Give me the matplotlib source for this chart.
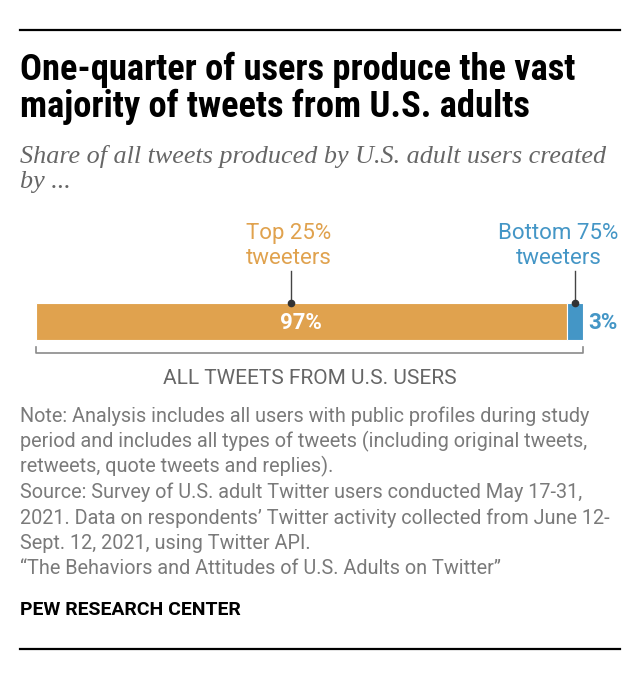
import os
import matplotlib
matplotlib.use('Agg')
import matplotlib.pyplot as plt
from matplotlib import font_manager
from matplotlib.font_manager import FontProperties

# canvas in pixels
W, H = 640, 682

# data
groups = ['Top 25%\ntweeters', 'Bottom 75%\ntweeters']
shares = [97, 3]
value_labels = ['97%', '3%']
colors = ['#E0A24E', '#4496C6']

title_lines = ['One-quarter of users produce the vast',
               'majority of tweets from U.S. adults']
subtitle_lines = ['Share of all tweets produced by U.S. adult users created',
                  'by ...']
bracket_label = 'ALL TWEETS FROM U.S. USERS'
note_lines = [
    'Note: Analysis includes all users with public profiles during study',
    'period and includes all types of tweets (including original tweets,',
    'retweets, quote tweets and replies).',
    'Source: Survey of U.S. adult Twitter users conducted May 17-31,',
    '2021. Data on respondents\u2019 Twitter activity collected from June 12-',
    'Sept. 12, 2021, using Twitter API.',
    '\u201cThe Behaviors and Attitudes of U.S. Adults on Twitter\u201d',
]
credit = 'PEW RESEARCH CENTER'


def pick(*names):
    have = {f.name for f in font_manager.fontManager.ttflist}
    for n in names:
        if n in have:
            return n
    return 'DejaVu Sans'


def pick_file(*stems):
    # look for a condensed bold face on disk, first match wins
    files = {os.path.basename(f.fname).lower(): f.fname for f in font_manager.fontManager.ttflist}
    for s in stems:
        for k, v in files.items():
            if k.startswith(s.lower()):
                return FontProperties(fname=v)
    return FontProperties(family='DejaVu Sans', weight='bold')


TITLE_FP = pick_file('LiberationSansNarrow-Bold', 'RobotoCondensed-Bold', 'NotoSans-CondensedBold',
                     'OpenSans-CondensedBold', 'DejaVuSansCondensed-Bold', 'Roboto-Bold')
BODY_FONT = pick('Roboto', 'Liberation Sans', 'Noto Sans')
SERIF_FONT = pick('Liberation Serif', 'DejaVu Serif')

fig = plt.figure(figsize=(W / 100, H / 100), dpi=100)
renderer = fig.canvas.get_renderer()


def put(x, y, s, size_px, fit=None, **kw):
    # x, y in pixels from top left, y is the baseline
    t = fig.text(x / W, 1 - y / H, s, va='baseline', **kw)
    t.set_fontsize(size_px * 0.72)
    if fit:
        w = t.get_window_extent(renderer).width
        t.set_fontsize(t.get_fontsize() * fit / w)
    return t


def rule(y):
    fig.add_artist(plt.Line2D([20 / W, 620 / W], [1 - y / H, 1 - y / H],
                              color='black', lw=1.6, transform=fig.transFigure))


rule(30)
rule(649)

# title
t = put(20, 80, title_lines[0], 30, fit=555, fontproperties=TITLE_FP)
put(20, 117, title_lines[1], t.get_fontsize() / 0.72, fontproperties=TITLE_FP)

# subtitle
s = put(20, 163, subtitle_lines[0], 21, fit=585, family=SERIF_FONT, style='italic', color='#666666')
put(20, 188, subtitle_lines[1], s.get_fontsize() / 0.72, family=SERIF_FONT, style='italic', color='#666666')

# notes
n = put(20, 422 + 25.4 * 4, note_lines[4], 16, fit=592, family=BODY_FONT, color='#7a7a7a')
for i, line in enumerate(note_lines):
    if i == 4:
        continue
    put(20, 422 + 25.4 * i, line, n.get_fontsize() / 0.72, family=BODY_FONT, color='#7a7a7a')

put(20, 615, credit, 18, fit=220, family=BODY_FONT, weight='bold', color='black')

# bar chart: y axis runs in pixel units so the bar sits where the original does
ax = fig.add_axes([36 / W, 1 - 400 / H, (583 - 36) / W, (400 - 205) / H])
ax.set_xlim(0, 100)
ax.set_ylim(400, 205)
ax.axis('off')

bar_y, bar_h = 321.5, 37
left = 0
anchor_frac = [0.48, 0.5]
label_dx = [-0.3, -3.0]
for i, (g, v, c) in enumerate(zip(groups, shares, colors)):
    ax.barh(bar_y, v, left=left, height=bar_h, color=c, edgecolor='white', lw=0.8)
    ax_x = left + v * anchor_frac[i]
    # leader line with dot on top of the bar
    ax.plot([ax_x, ax_x], [271, bar_y - bar_h / 2], color='#444444', lw=1, clip_on=False)
    ax.plot(ax_x, bar_y - bar_h / 2, 'o', ms=4.5, color='#333333', clip_on=False)
    for j, line in enumerate(g.split('\n')):
        ax.text(ax_x + label_dx[i], 239 + 25 * j, line, ha='center', va='baseline',
                fontsize=16, color=c, family=BODY_FONT)
    left += v

# value labels
ax.text(shares[0] / 2, 328.5, value_labels[0], ha='center', va='baseline',
        fontsize=16, color='white', weight='bold', family=BODY_FONT)
ax.annotate(value_labels[1], xy=(sum(shares), 328.5), xytext=(3.6, 0),
            textcoords='offset points', ha='left', va='baseline',
            fontsize=16, color=colors[1], weight='bold', family=BODY_FONT,
            annotation_clip=False)

# bracket under the bar
ax.plot([0, 0, sum(shares), sum(shares)], [347, 353, 353, 347],
        color='#8a8a8a', lw=1.2, clip_on=False)
ax.text(sum(shares) / 2, 384, bracket_label, ha='center', va='baseline',
        fontsize=15, color='#666666', family=BODY_FONT)

fig.savefig('out.png', dpi=100)
